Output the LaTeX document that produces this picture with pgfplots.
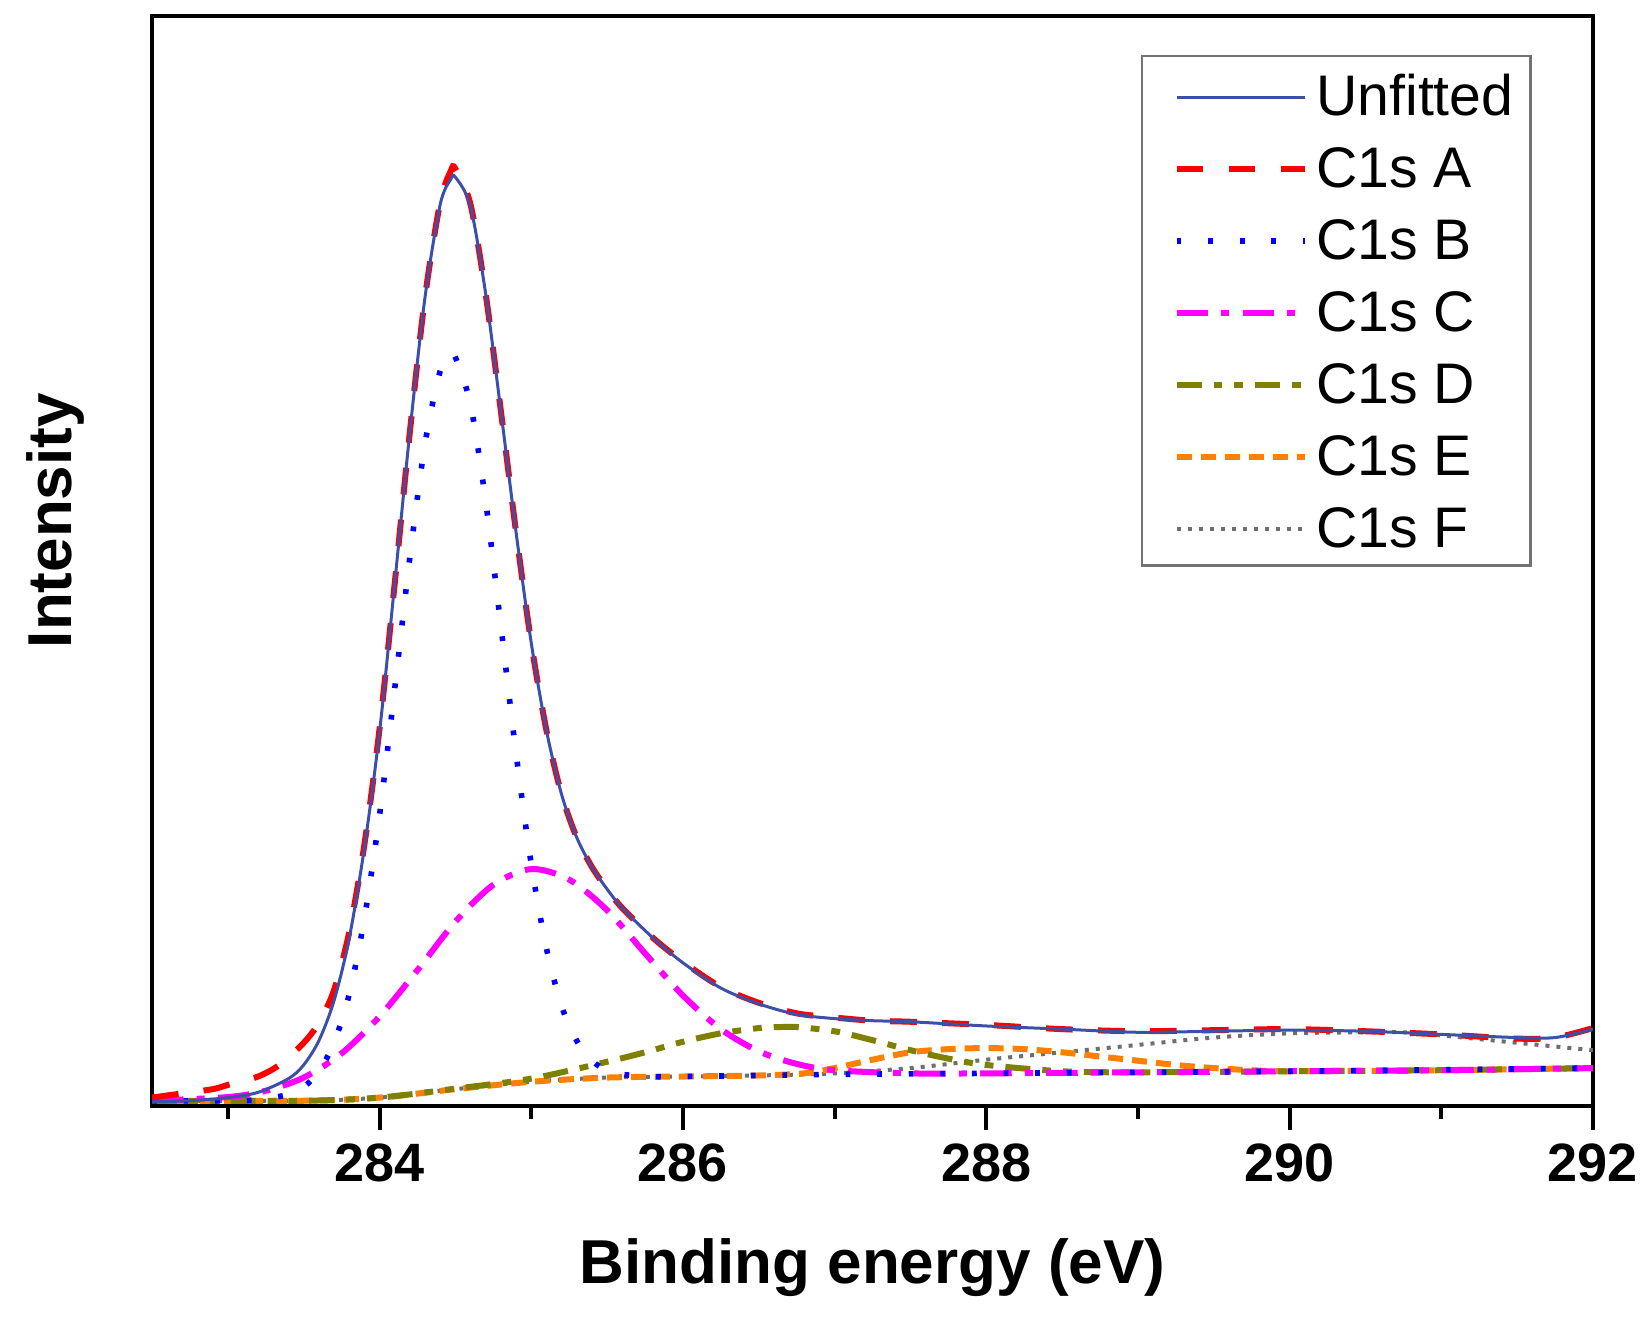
\documentclass[border=0pt]{standalone}
\usepackage{pgfplots}
\pgfplotsset{compat=1.18}
\usepackage{fontspec}
\setmainfont{Liberation Sans}
\definecolor{unfit}{RGB}{60,80,170}
\definecolor{cA}{RGB}{255,0,0}
\definecolor{cB}{RGB}{0,0,255}
\definecolor{cC}{RGB}{255,0,255}
\definecolor{cD}{RGB}{128,128,0}
\definecolor{cE}{RGB}{255,128,0}
\definecolor{cF}{RGB}{110,110,110}
\begin{document}
\begin{tikzpicture}
\useasboundingbox (-38pt,-53pt) rectangle (373.25pt,276.5pt);
\begin{axis}[
  scale only axis,
  width=360.25pt, height=272.5pt,
  xmin=282.5, xmax=292, ymin=0, ymax=1035,
  xtick={284,286,288,290,292},
  minor xtick={283,285,287,289,291},
  ytick=\empty,
  xtick pos=bottom,
  tick align=outside,
  major tick length=6pt,
  minor tick length=3.25pt,
  tick style={line width=1pt, black},
  axis line style={line width=1.1pt, black},
  /pgf/number format/assume math mode=true,
  /pgf/number format/1000 sep={},
  xticklabel style={font=\bfseries\fontsize{13.5}{16}\selectfont},
  xlabel={Binding energy (eV)},
  ylabel={Intensity},
  xlabel style={at={(axis description cs:0.5,-0.1211)}, anchor=north, inner sep=0pt, font=\bfseries\fontsize{15.5}{18}\selectfont},
  ylabel style={at={(axis description cs:-0.0874,0.537)}, rotate=0, anchor=north, inner sep=0pt, font=\bfseries\fontsize{15.5}{18}\selectfont},
  reverse legend,
  legend cell align=left,
  legend style={at={(0.6863,0.9642)}, anchor=north west, draw=black!55, line width=0.6pt,
    inner xsep=4.25pt, inner ysep=4.5pt, row sep=7.7pt,
    font=\fontsize{14.3}{17}\selectfont,
    nodes={inner sep=0pt, text height=10.3pt, text depth=0pt},
    /tikz/every odd column/.append style={column sep=2.2pt}},
  legend image code/.code={\path (0pt,0pt); \draw[#1] (3.6pt,-0.6pt) -- (35.6pt,-0.6pt);},
]
% C1s F
\addplot[cF, line width=1pt, dash pattern=on 1pt off 1.75pt, smooth] coordinates {
(282.5,5) (283.5,5) (284,8) (284.5,16) (285,23) (285.5,27) (286,28) (286.5,29) (287,31)
(287.5,36) (288,44) (288.5,51) (289,58) (289.5,65) (290,69) (290.5,70) (290.75,70)
(291,67) (291.5,60) (292,53)};
\addlegendentry{C1s F}
% C1s E
\addplot[cE, line width=1.5pt, dash pattern=on 3.75pt off 2.25pt, smooth] coordinates {
(282.5,5) (283.5,5) (284,8) (284.5,16) (285,23) (285.5,27) (286,28) (286.5,29) (286.8,31)
(287,36) (287.25,44) (287.5,51) (287.75,54) (288,55) (288.25,54) (288.5,51) (288.75,47)
(289,43) (289.25,39) (289.5,36) (289.75,34) (290,33) (291,34) (292,36)};
\addlegendentry{C1s E}
% C1s D
\addplot[cD, line width=1.5pt, dash pattern=on 6.25pt off 3pt on 2.2pt off 3pt on 2.2pt off 3pt, smooth] coordinates {
(282.5,5) (283.5,5) (284,8) (284.5,16.5) (285,26) (285.5,42) (285.75,51) (286,61)
(286.25,69) (286.5,74) (286.65,75) (286.75,75) (287,71) (287.25,62.5) (287.5,53)
(287.75,45) (288,39) (288.5,33) (289,32) (290,33) (291,34) (292,36)};
\addlegendentry{C1s D}
% C1s C
\addplot[cC, line width=1.5pt, dash pattern=on 7.9pt off 3.3pt on 2pt off 3.3pt, smooth] coordinates {
(282.5,5) (283,8.5) (283.25,14.5) (283.5,27) (283.75,50) (284,85) (284.25,129)
(284.5,175) (284.75,210) (285,225) (285.25,215) (285.5,186) (285.75,145) (286,105)
(286.25,73) (286.5,52) (286.75,40) (287,34) (287.5,31) (288,31) (289,32) (290,33)
(291,34) (292,36)};
\addlegendentry{C1s C}
% C1s B
\addplot[cB, line width=1.4pt, dash pattern=on 1.2pt off 6.7pt, smooth] coordinates {
(282.5,5) (283,5) (283.2,6) (283.4,11) (283.5,18) (283.6,33) (283.7,60) (283.8,106)
(283.9,178) (284,276) (284.1,396) (284.2,521) (284.3,629) (284.4,698) (284.47,713)
(284.5,711) (284.6,666) (284.7,574) (284.8,456) (284.9,335) (285,230) (285.1,150)
(285.2,95) (285.3,62) (285.4,43) (285.5,34) (285.6,30) (285.8,28) (286,28) (287,30)
(288,31) (290,33) (292,36)};
\addlegendentry{C1s B}
% C1s A
\addplot[cA, line width=1.5pt, dash pattern=on 6.7pt off 6.3pt, smooth] coordinates {
(282.5,8) (282.7,12) (282.9,16) (283,20) (283.2,28) (283.35,40) (283.5,60) (283.6,79)
(283.7,110) (283.8,165) (283.9,248) (284,358) (284.1,496) (284.2,640) (284.3,768)
(284.4,858) (284.47,888) (284.5,890) (284.6,856) (284.7,771) (284.8,660) (284.9,545)
(285,440) (285.1,357) (285.2,296) (285.3,255) (285.4,227) (285.5,206) (285.6,188)
(285.8,160) (286,137) (286.25,113) (286.5,98) (286.75,88) (287,84) (287.25,81)
(287.5,80) (288,77) (288.5,73) (289,71) (289.5,72) (290,73) (290.5,71) (291,68)
(291.5,64) (291.75,65) (292,74)};
\addlegendentry{C1s A}
% Unfitted
\addplot[unfit, line width=0.75pt, smooth] coordinates {
(282.5,4) (282.75,5) (283,8) (283.2,13) (283.4,26) (283.5,39) (283.6,62) (283.7,100)
(283.8,159) (283.9,245) (284,355) (284.1,496) (284.2,640) (284.3,768) (284.4,856)
(284.47,880) (284.5,882) (284.6,854) (284.7,771) (284.8,660) (284.9,545) (285,440)
(285.1,357) (285.2,296) (285.3,255) (285.4,227) (285.5,206) (285.6,188) (285.8,160)
(286,136) (286.25,112) (286.5,97) (286.75,87) (287,83) (287.25,81) (287.5,80)
(288,76) (288.5,73) (289,70) (289.5,71) (290,72) (290.5,71) (291,68) (291.5,65)
(291.75,65) (292,73)};
\addlegendentry{Unfitted}
\end{axis}
\end{tikzpicture}
\end{document}
